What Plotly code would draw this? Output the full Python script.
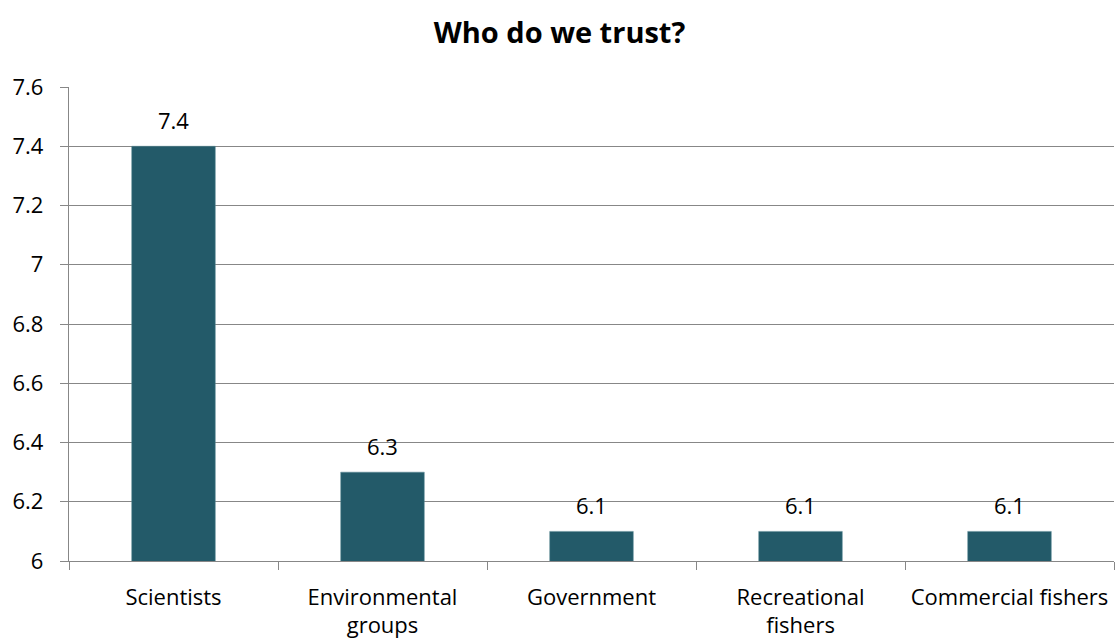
import plotly.graph_objects as go

categories = ["Scientists", "Environmental<br>groups", "Government", "Recreational<br>fishers", "Commercial fishers"]
values = [7.4, 6.3, 6.1, 6.1, 6.1]
value_labels = ["7.4", "6.3", "6.1", "6.1", "6.1"]

font_family = "Open Sans, Noto Sans, sans-serif"
grid = "#878787"
fs = 22

fig = go.Figure(go.Bar(
    x=categories, y=values, marker=dict(color="#235A69", line=dict(color="#5d8a96", width=0.5)),
    width=0.4, hoverinfo="skip",
))

for c, v, t in zip(categories, values, value_labels):
    fig.add_annotation(x=c, y=v, text=t, showarrow=False, yanchor="middle", yshift=26,
                       font=dict(family=font_family, size=fs, color="#000"))

fig.update_layout(
    width=1119, height=640,
    margin=dict(l=69, r=5, t=87, b=79),
    paper_bgcolor="white", plot_bgcolor="white",
    showlegend=False,
    title=dict(text="<b>Who do we trust?</b>", x=0.5, xanchor="center", y=0.948, yanchor="middle",
               font=dict(family=font_family, size=29, color="#000")),
    font=dict(family=font_family, size=fs, color="#000"),
    xaxis=dict(type="category", showgrid=False, showline=True, linecolor=grid, linewidth=1.4,
               ticks="outside", tickson="boundaries", ticklen=8, tickcolor=grid, tickwidth=1.4,
               ticklabelstandoff=16, automargin=False,
               tickfont=dict(family=font_family, size=fs, color="#000")),
    yaxis=dict(range=[6, 7.6], dtick=0.2, tick0=6, showgrid=True, gridcolor=grid, gridwidth=1.4,
               showline=True, linecolor=grid, linewidth=1.4, ticks="outside", ticklen=8,
               tickcolor=grid, tickwidth=1.4, zeroline=False, ticklabelstandoff=12, automargin=False,
               tickfont=dict(family=font_family, size=fs, color="#000")),
)

fig.write_html("out.html", config={"displayModeBar": False},
               post_script="document.body.style.margin='0';document.body.style.overflow='hidden';")
